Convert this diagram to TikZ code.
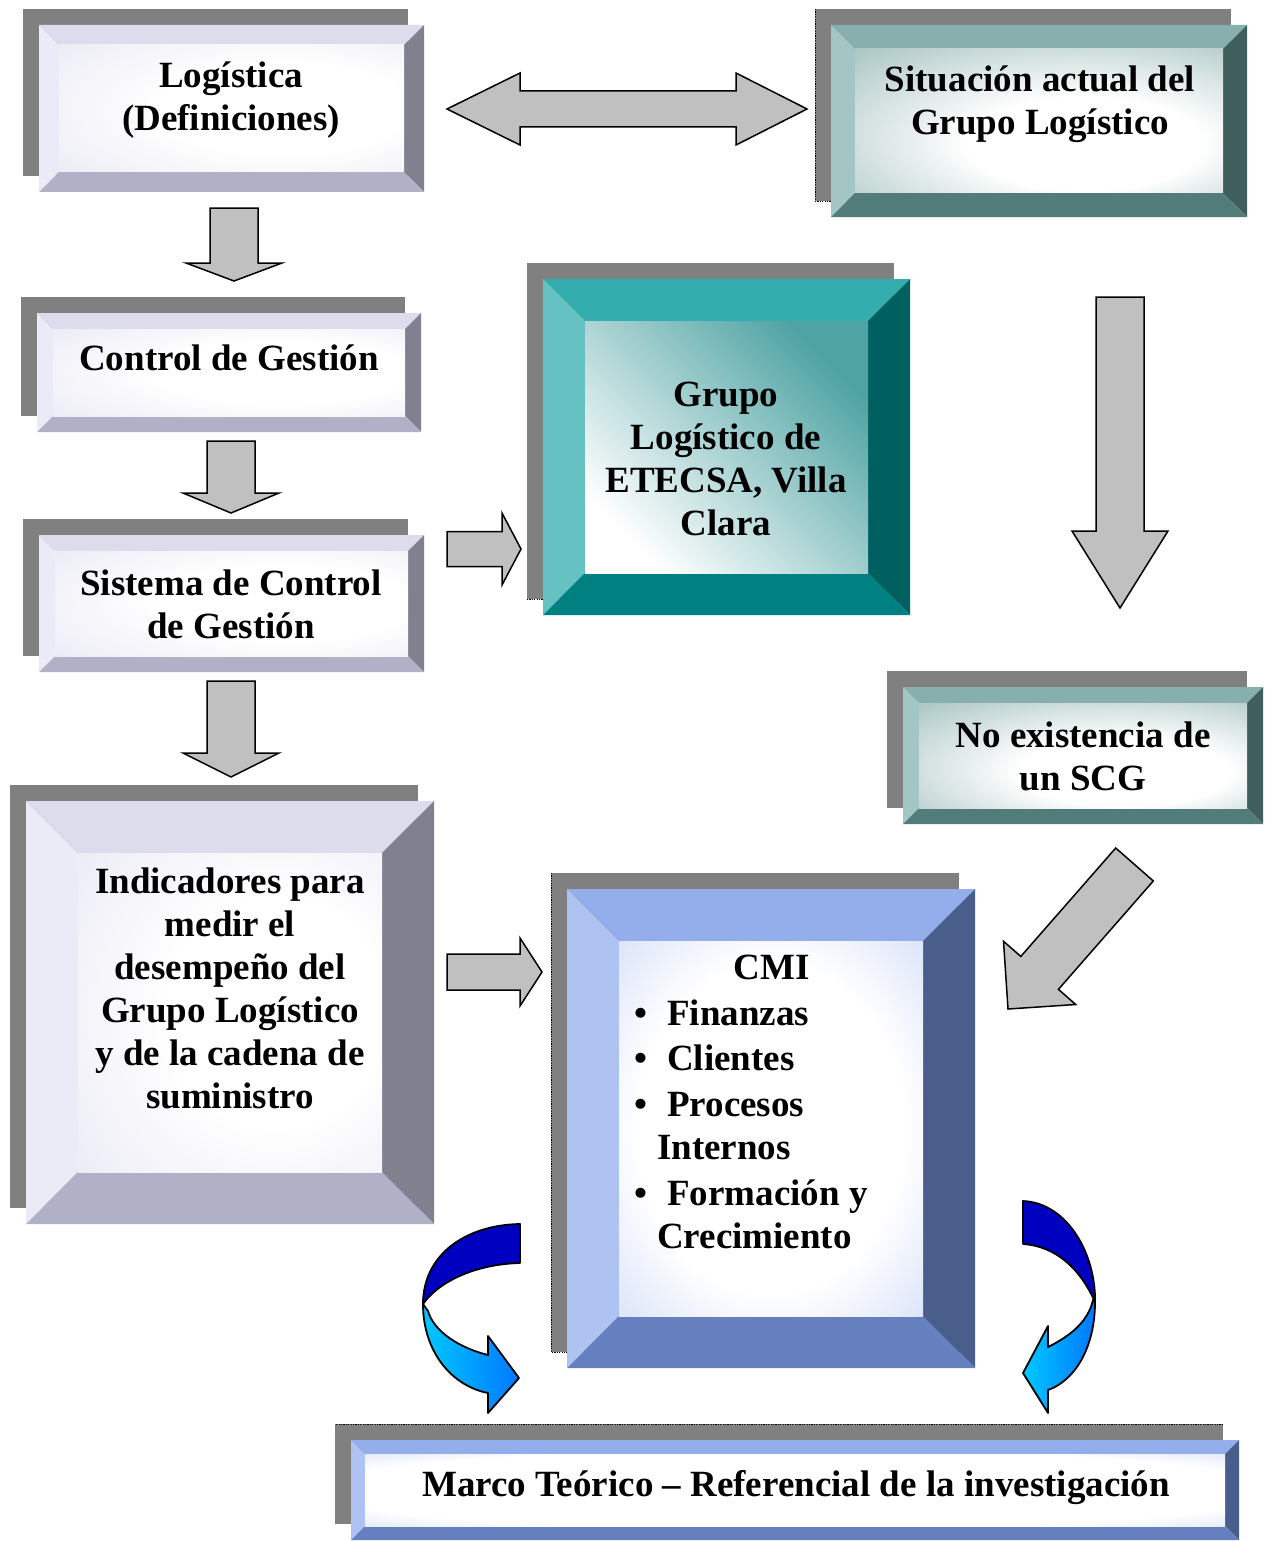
\documentclass[tikz,border=0pt]{standalone}
\usepackage{fontspec}
\setmainfont{Liberation Serif}
\usetikzlibrary{calc}

% palette
\definecolor{shadowgray}{HTML}{808080}
\definecolor{arrowgray}{HTML}{C0C0C0}
\definecolor{lavT}{HTML}{DCDCEC}\definecolor{lavL}{HTML}{EBEBF7}
\definecolor{lavR}{HTML}{80808F}\definecolor{lavB}{HTML}{B0B0C6}
\definecolor{lavIn}{HTML}{E0E0F0}
\definecolor{tgT}{HTML}{86AFAD}\definecolor{tgL}{HTML}{A3C6C4}
\definecolor{tgR}{HTML}{3F5E5C}\definecolor{tgB}{HTML}{527C79}
\definecolor{tgIn}{HTML}{7DA7A4}
\definecolor{tlT}{HTML}{33ADAD}\definecolor{tlL}{HTML}{66C2C2}
\definecolor{tlR}{HTML}{006060}\definecolor{tlB}{HTML}{008080}
\definecolor{tlIn}{HTML}{4FA3A3}
\definecolor{blT}{HTML}{94AEEC}\definecolor{blL}{HTML}{AFC3F2}
\definecolor{blR}{HTML}{4A5E8C}\definecolor{blB}{HTML}{6680BF}
\definecolor{blIn}{HTML}{98B0EE}
\definecolor{curveDark}{HTML}{0000C0}
\definecolor{curveA}{HTML}{00C8FF}
\definecolor{curveB}{HTML}{0078FF}

% inner panel shadings
\pgfdeclareradialshading{lavglow}{\pgfpoint{10bp}{0bp}}{color(0bp)=(white); color(18bp)=(white); color(52bp)=(lavIn); color(75bp)=(lavIn)}
\pgfdeclareradialshading{tgglow}{\pgfpoint{8bp}{-10bp}}{color(0bp)=(white); color(16bp)=(white); color(55bp)=(tgIn); color(75bp)=(tgIn)}
\pgfdeclareradialshading{blglow}{\pgfpoint{0bp}{0bp}}{color(0bp)=(white); color(22bp)=(white); color(62bp)=(blIn); color(75bp)=(blIn)}
\pgfdeclareradialshading{blwide}{\pgfpoint{0bp}{0bp}}{color(0bp)=(white); color(28bp)=(white); color(58bp)=(blIn); color(75bp)=(blIn)}

\tikzset{
  boxn/.style={rectangle, inner sep=0pt, outer sep=0pt},
  lbl/.style={font=\fontsize{37}{43}\selectfont\bfseries, align=center, inner sep=0pt},
  grayarrow/.style={fill=arrowgray, draw=black, line width=1.5pt, line join=miter},
  curveline/.style={draw=black, line width=1.8pt, line join=round},
  shadowedge/.style={draw=black, line width=0.8pt, dash pattern=on 1.2pt off 1.2pt},
}

% shadow, four bevel faces and shaded face of a panel
% #1 node, #2 bevel width, #3 colour prefix, #4 shading name
\newcommand\bevelbox[4]{%
  \fill[shadowgray] ($(#1.north west)+(-16,-16)$) rectangle ($(#1.south east)+(-16,-16)$);
  \fill[#3T] (#1.north west) -- (#1.north east) -- ($(#1.north east)+(-#2,#2)$) -- ($(#1.north west)+(#2,#2)$) -- cycle;
  \fill[#3L] (#1.north west) -- ($(#1.north west)+(#2,#2)$) -- ($(#1.south west)+(#2,-#2)$) -- (#1.south west) -- cycle;
  \fill[#3R] (#1.north east) -- (#1.south east) -- ($(#1.south east)+(-#2,-#2)$) -- ($(#1.north east)+(-#2,#2)$) -- cycle;
  \fill[#3B] (#1.south west) -- (#1.south east) -- ($(#1.south east)+(-#2,-#2)$) -- ($(#1.south west)+(#2,-#2)$) -- cycle;
  \shade[#4] ($(#1.north west)+(#2,#2)$) rectangle ($(#1.south east)+(-#2,-#2)$);
}

% block arrow from #1 to #2: shaft half width #3, head half width #4, head length #5
\newcommand\blockarrow[5]{%
  \coordinate (ba-base) at ($(#2)!#5pt!(#1)$);
  \draw[grayarrow] ($(#1)!#3pt!90:(#2)$) -- ($(ba-base)!#3pt!-90:(#1)$) -- ($(ba-base)!#4pt!-90:(#1)$)
    -- (#2) -- ($(ba-base)!#4pt!90:(#1)$) -- ($(ba-base)!#3pt!90:(#1)$) -- ($(#1)!#3pt!-90:(#2)$) -- cycle;
}

\begin{document}
\begin{tikzpicture}[x=1pt,y=-1pt]
\useasboundingbox (0,0) rectangle (1270,1541);
\fill[white] (0,0) rectangle (1270,1541);

% panels
\node[boxn, minimum width=385pt, minimum height=167pt] (logi)  at (231.5,108.5) {};
\node[boxn, minimum width=416pt, minimum height=192pt] (sit)   at (1039,121) {};
\node[boxn, minimum width=367pt, minimum height=336pt] (grupo) at (726.5,447) {};
\node[boxn, minimum width=384pt, minimum height=119pt] (ctrl)  at (229,372.5) {};
\node[boxn, minimum width=385pt, minimum height=137pt] (sist)  at (231.5,603.5) {};
\node[boxn, minimum width=408pt, minimum height=423pt] (indic) at (230,1012.5) {};
\node[boxn, minimum width=360pt, minimum height=137pt] (noex)  at (1083,755.5) {};
\node[boxn, minimum width=408pt, minimum height=479pt] (cmi)   at (771,1128.5) {};
\node[boxn, minimum width=888pt, minimum height=100pt] (marco) at (795,1490) {};

\bevelbox{logi}{20}{lav}{shading=lavglow}
\bevelbox{sit}{24}{tg}{shading=tgglow}
\bevelbox{grupo}{42}{tl}{top color=tlIn, bottom color=white, shading angle=-45}
\bevelbox{ctrl}{16}{lav}{shading=lavglow}
\bevelbox{sist}{16}{lav}{shading=lavglow}
\bevelbox{indic}{52}{lav}{shading=lavglow}
\bevelbox{noex}{16}{tg}{shading=tgglow}
\bevelbox{cmi}{52}{bl}{shading=blglow}
\bevelbox{marco}{14}{bl}{shading=blwide}

% dotted outline on the visible parts of some shadows
\draw[shadowedge] ($(sit.north west)+(-16,-16)$) -- ($(sit.south west)+(-16,-16)$) -- ($(sit.south west)+(0,-16)$);
\draw[shadowedge] ($(grupo.south west)+(-16,-16)$) -- ($(grupo.south west)+(0,-16)$);
\draw[shadowedge] ($(cmi.north west)+(-16,-16)$) -- ($(cmi.south west)+(-16,-16)$) -- ($(cmi.south west)+(0,-16)$);
\draw[shadowedge] ($(marco.north east)+(-16,-16)$) -- ($(marco.north west)+(-16,-16)$);

% panel texts
\node[lbl] (logi-t)  at (231,100)  {Logística\\(Definiciones)};
\node[lbl] (sit-t)   at (1040,104) {Situación actual del\\Grupo Logístico};
\node[lbl] (grupo-t) at (726,459)  {Grupo\\Logístico de\\ETECSA, Villa\\Clara};
\node[lbl] (ctrl-t)  at (229,358)  {Control de Gestión};
\node[lbl] (sist-t)  at (231,604)  {Sistema de Control\\de Gestión};
\node[lbl] (indic-t) at (230,988)  {Indicadores para\\medir el\\desempeño del\\Grupo Logístico\\y de la cadena de\\suministro};
\node[lbl] (noex-t)  at (1083,756) {No existencia de\\un SCG};
\node[lbl] (marco-t) at (796,1488) {Marco Teórico – Referencial de la investigación};

\node[lbl, anchor=base] (cmi-t) at (772,979) {CMI};
\node[lbl, anchor=base west] (cmi-1) at (634,1025) {\makebox[33pt][l]{•}Finanzas};
\node[lbl, anchor=base west] (cmi-2) at (634,1070) {\makebox[33pt][l]{•}Clientes};
\node[lbl, anchor=base west] (cmi-3) at (634,1116) {\makebox[33pt][l]{•}Procesos};
\node[lbl, anchor=base west] (cmi-4) at (657,1159) {Internos};
\node[lbl, anchor=base west] (cmi-5) at (634,1205) {\makebox[33pt][l]{•}Formación y};
\node[lbl, anchor=base west] (cmi-6) at (657,1248) {Crecimiento};

% grey block arrows
\coordinate (dl) at (447,109);
\coordinate (dr) at (807,109);
\coordinate (dlb) at ($(dl)!73pt!(dr)$);
\coordinate (drb) at ($(dr)!71pt!(dl)$);
\draw[grayarrow] (dl) -- ($(dlb)!36pt!90:(dr)$) -- ($(dlb)!18pt!90:(dr)$) -- ($(drb)!18pt!-90:(dl)$)
  -- ($(drb)!36pt!-90:(dl)$) -- (dr) -- ($(drb)!36pt!90:(dl)$) -- ($(drb)!18pt!90:(dl)$)
  -- ($(dlb)!18pt!-90:(dr)$) -- ($(dlb)!36pt!-90:(dr)$) -- cycle;

\coordinate (a1s) at (234,208);  \coordinate (a1e) at (234,281);
\coordinate (a2s) at (231,441);  \coordinate (a2e) at (231,513);
\coordinate (a3s) at (231,681);  \coordinate (a3e) at (231,777);
\coordinate (a4s) at (447,549);  \coordinate (a4e) at (521,549);
\coordinate (a5s) at (447,972);  \coordinate (a5e) at (542,972);
\coordinate (a6s) at (1120,297); \coordinate (a6e) at (1120,608);
\coordinate (a7s) at (1134.5,864.5); \coordinate (a7e) at (1008,1009);

\blockarrow{a1s}{a1e}{24}{48}{18}
\blockarrow{a2s}{a2e}{24}{48}{20}
\blockarrow{a3s}{a3e}{24}{48}{24}
\blockarrow{a4s}{a4e}{17.5}{36}{19}
\blockarrow{a5s}{a5e}{18}{34}{22}
\blockarrow{a6s}{a6e}{24}{48}{77}
\blockarrow{a7s}{a7e}{25}{48}{48}

% curved arrows to the bottom panel
\filldraw[curveline, fill=curveDark] (520,1224) .. controls (465,1225) and (423,1255) .. (423,1304)
  .. controls (440,1280) and (478,1264) .. (520,1263) -- cycle;
\shadedraw[curveline, left color=curveA, right color=curveB] (423,1304)
  .. controls (423,1352) and (452,1386) .. (488,1393) -- (488,1413) -- (519,1378) -- (488,1336) -- (488,1355)
  .. controls (460,1348) and (434,1332) .. (428,1311) -- cycle;

\filldraw[curveline, fill=curveDark] (1023,1201) .. controls (1068,1203) and (1096,1255) .. (1095,1302)
  .. controls (1080,1268) and (1055,1246) .. (1023,1244) -- cycle;
\shadedraw[curveline, left color=curveA, right color=curveB] (1095,1302)
  .. controls (1095,1346) and (1076,1380) .. (1048,1390) -- (1048,1413) -- (1023,1373) -- (1048,1326) -- (1048,1347)
  .. controls (1070,1336) and (1088,1322) .. (1093,1300) -- cycle;
\end{tikzpicture}
\end{document}
